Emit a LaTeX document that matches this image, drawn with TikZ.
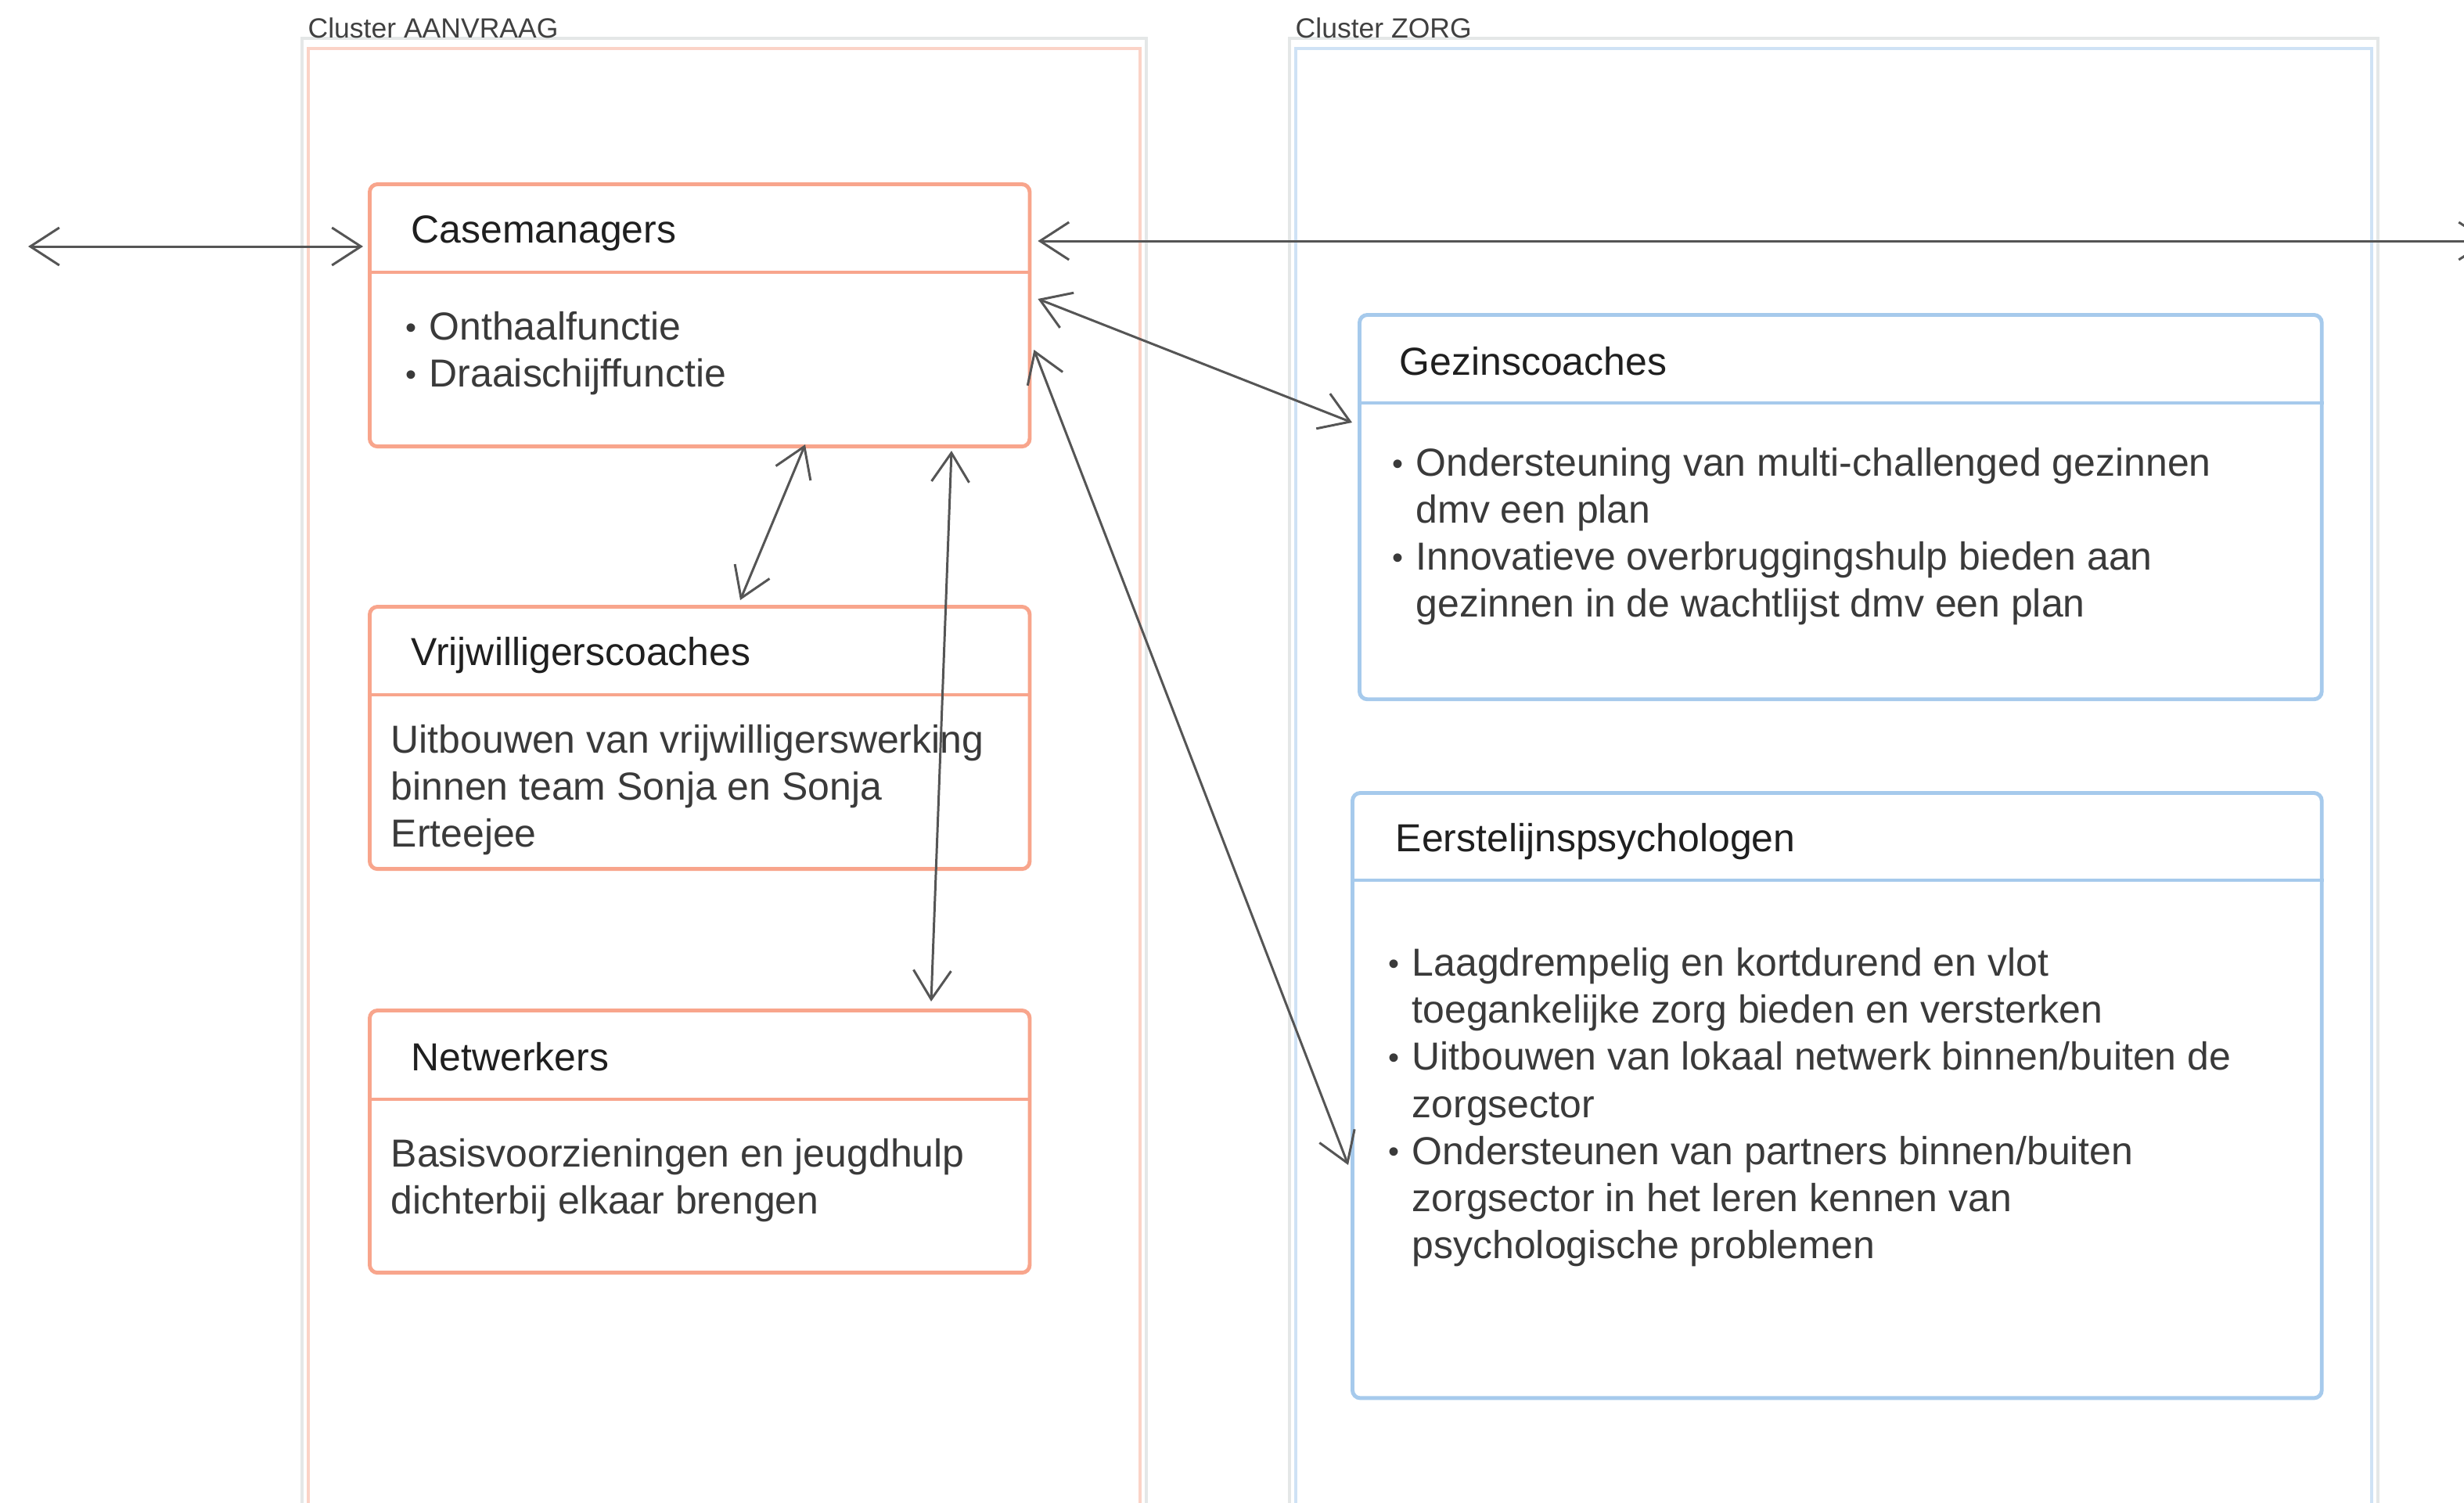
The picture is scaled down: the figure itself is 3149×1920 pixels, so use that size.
\documentclass[tikz,border=0pt]{standalone}
\usepackage{fontspec}
\setmainfont{Liberation Sans}
\usetikzlibrary{arrows.meta,calc,positioning}
\definecolor{salmon}{HTML}{F8A58C}
\definecolor{skyline}{HTML}{A6CAEC}
\definecolor{pinkframe}{HTML}{FBD3C7}
\definecolor{blueframe}{HTML}{CFE2F5}
\definecolor{shadowgray}{HTML}{E4E7E7}
\definecolor{linkgray}{HTML}{555555}
\definecolor{textgray}{HTML}{3A3A3A}
\tikzset{
  rolebox/.style={draw, line width=1.4pt, rounded corners=0.1cm, fill=white, inner sep=0pt, anchor=north west},
  aanvraagbox/.style={rolebox, draw=salmon},
  zorgbox/.style={rolebox, draw=skyline},
  roletitle/.style={anchor=west, inner sep=0pt, font=\fontsize{14.2}{17.1}\selectfont, text=black!88},
  roletext/.style={anchor=north west, inner sep=0pt, align=left, font=\fontsize{14.2}{17.07}\selectfont, text=textgray},
  clusterlabel/.style={anchor=west, inner sep=0pt, font=\fontsize{10.1}{12}\selectfont, text=black!75},
  link/.style={draw=linkgray, line width=0.85pt, <->, >={Straight Barb[length=3.7mm,width=4.8mm]}},
}
\newcommand{\bulitem}{\makebox[0.3cm][l]{\raisebox{0.1ex}{\scalebox{0.8}{\textbullet}}}}
\newcommand{\bulindent}{\hspace*{0.3cm}}
\begin{document}
\begin{tikzpicture}[x=0.01cm,y=-0.01cm]
  \clip (0,0) rectangle (3149,1920);
  \fill[white] (0,0) rectangle (3149,1920);
  % clusters
  \draw[shadowgray, line width=1.3pt] (386,49) rectangle (1465,2000);
  \draw[pinkframe, line width=0.9pt] (394,62) rectangle (1457,2000);
  \node[clusterlabel] (aanvraaglabel) at (393,36) {Cluster AANVRAAG};
  \draw[shadowgray, line width=1.3pt] (1648,49) rectangle (3039,2000);
  \draw[blueframe, line width=0.9pt] (1656,62) rectangle (3031,2000);
  \node[clusterlabel] (zorglabel) at (1655,36) {Cluster ZORG};

  % cluster AANVRAAG
  \node[aanvraagbox, minimum width=8.43cm, minimum height=3.35cm] (casemgr) at (470,233) {};
  \draw[salmon, line width=1.4pt] ($(casemgr.north west)+(0,115)$) -- ($(casemgr.north east)+(0,115)$);
  \node[roletitle] (casemgrtitle) at ($(casemgr.north west)+(55,65)$) {Casemanagers};
  \node[roletext] (casemgrtext) at ($(casemgr.north west)+(48,165)$)
    {\bulitem Onthaalfunctie\\ \bulitem Draaischijffunctie};

  \node[aanvraagbox, minimum width=8.43cm, minimum height=3.35cm] (vrijwcoach) at (470,773) {};
  \draw[salmon, line width=1.4pt] ($(vrijwcoach.north west)+(0,115)$) -- ($(vrijwcoach.north east)+(0,115)$);
  \node[roletitle] (vrijwcoachtitle) at ($(vrijwcoach.north west)+(55,65)$) {Vrijwilligerscoaches};
  \node[roletext] (vrijwcoachtext) at ($(vrijwcoach.north west)+(29,153)$)
    {Uitbouwen van vrijwilligerswerking\\ binnen team Sonja en Sonja\\ Erteejee};

  \node[aanvraagbox, minimum width=8.43cm, minimum height=3.35cm] (netwerk) at (470,1289) {};
  \draw[salmon, line width=1.4pt] ($(netwerk.north west)+(0,116)$) -- ($(netwerk.north east)+(0,116)$);
  \node[roletitle] (netwerktitle) at ($(netwerk.north west)+(55,62)$) {Netwerkers};
  \node[roletext] (netwerktext) at ($(netwerk.north west)+(29,166)$)
    {Basisvoorzieningen en jeugdhulp\\ dichterbij elkaar brengen};

  % cluster ZORG
  \node[zorgbox, minimum width=12.29cm, minimum height=4.91cm] (gezincoach) at (1735,400) {};
  \draw[skyline, line width=1.4pt] ($(gezincoach.north west)+(0,115)$) -- ($(gezincoach.north east)+(0,115)$);
  \node[roletitle] (gezincoachtitle) at ($(gezincoach.north west)+(53,62)$) {Gezinscoaches};
  \node[roletext] (gezincoachtext) at ($(gezincoach.north west)+(44,172)$)
    {\bulitem Ondersteuning van multi-challenged gezinnen\\ \bulindent dmv een plan\\
     \bulitem Innovatieve overbruggingshulp bieden aan\\ \bulindent gezinnen in de wachtlijst dmv een plan};

  \node[zorgbox, minimum width=12.38cm, minimum height=7.73cm] (eerstpsy) at (1726,1011) {};
  \draw[skyline, line width=1.4pt] ($(eerstpsy.north west)+(0,114)$) -- ($(eerstpsy.north east)+(0,114)$);
  \node[roletitle] (eerstpsytitle) at ($(eerstpsy.north west)+(57,65)$) {Eerstelijnspsychologen};
  \node[roletext] (eerstpsytext) at ($(eerstpsy.north west)+(48,200)$)
    {\bulitem Laagdrempelig en kortdurend en vlot\\ \bulindent toegankelijke zorg bieden en versterken\\
     \bulitem Uitbouwen van lokaal netwerk binnen/buiten de\\ \bulindent zorgsector\\
     \bulitem Ondersteunen van partners binnen/buiten\\ \bulindent zorgsector in het leren kennen van\\
     \bulindent psychologische problemen};

  % links
  \coordinate (leftend) at (36,315);
  \coordinate (rightend) at (3182,308);
  \draw[link] (leftend) -- ($(casemgr.north west)+(-6,82)$);
  \draw[link] ($(casemgr.north east)+(8,75)$) -- (rightend);
  \draw[link] ($(casemgr.north east)+(8,149)$) -- ($(gezincoach.north west)+(-7,140)$);
  \draw[link] ($(casemgr.south west)+(559,-5)$) -- ($(vrijwcoach.north west)+(476,-6)$);
  \draw[link] ($(casemgr.south west)+(746,3)$) -- ($(netwerk.north west)+(720,-9)$);
  \draw[link] ($(casemgr.north east)+(3,214)$) -- ($(eerstpsy.north west)+(-3,478)$);
\end{tikzpicture}
\end{document}
